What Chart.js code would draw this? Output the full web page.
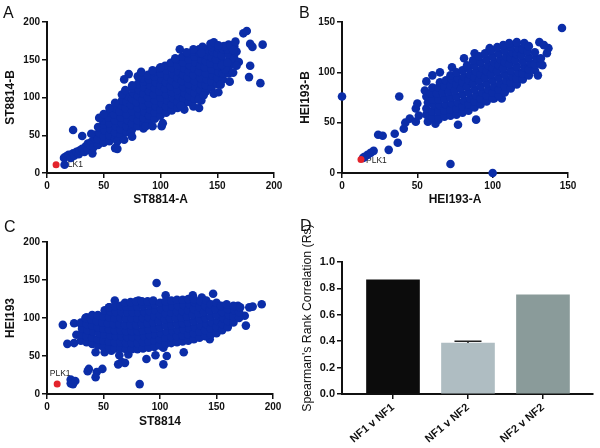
<!DOCTYPE html>
<html>
<head>
<meta charset="utf-8">
<script src="https://cdn.jsdelivr.net/npm/chart.js@4.4.0/dist/chart.umd.min.js"></script>
<style>
  body { margin: 0; background: #fff; }
  #wrap { position: relative; width: 600px; height: 448px; overflow: hidden; font-family: 'Liberation Sans', Arial, sans-serif; color: #111; }
  canvas { position: absolute; }
  .tag { position: absolute; font-size: 16px; line-height: 16px; }
  #dTitle { position: absolute; left: 207px; top: 311px; width: 200px; line-height: 14px; font-size: 12.3px; text-align: center; white-space: nowrap; transform: rotate(-90deg); }
</style>
</head>
<body>
<div id="wrap">
  <canvas id="cA" width="290" height="224" style="left:0;top:0"></canvas>
  <canvas id="cB" width="303" height="224" style="left:297px;top:0"></canvas>
  <canvas id="cC" width="290" height="224" style="left:0;top:224px"></canvas>
  <canvas id="cD" width="300" height="224" style="left:300px;top:224px"></canvas>
  <div class="tag" style="left:3px;top:5px">A</div>
  <div class="tag" style="left:299px;top:5px">B</div>
  <div class="tag" style="left:4px;top:219px">C</div>
  <div class="tag" style="left:300px;top:218px">D</div>
  <div id="dTitle">Spearman's Rank Correlation (Rs)</div>
</div>
<script>
// panel A: ST8814-A vs ST8814-B
const aPts = [
  [15,20],[17,22],[19,24],[21,20],[23,26],[24,23],[26,28],[28,25],[29,30],[31,32],[33,28],[34,35],[36,31],[36,39],
  [38,37],[39,41],[40,26],[41,34],[42,46],[43,51],[23,57],[31,49],[39,52],[15.5,11],
  [45,37],[45,45],[46,53],[45,61],
  [50,40],[50,48],[51,56],[50,64],[49,70],
  [55,42],[55,50],[56,58],[55,66],[54,74],[55,80],
  [60,46],[60,54],[61,62],[60,70],[59,78],[60,86],
  [65,50],[65,58],[66,66],[65,74],[64,82],[65,90],[66,96],
  [70,54],[70,62],[71,70],[70,78],[69,86],[70,94],[71,102],
  [75,58],[75,66],[76,74],[75,82],[74,90],[75,98],[76,106],[75,112],
  [80,62],[80,70],[81,78],[80,86],[79,94],[80,102],[81,110],[80,118],
  [85,65],[85,73],[86,81],[85,89],[84,97],[85,105],[86,113],[85,121],[84,126],
  [90,68],[90,76],[91,84],[90,92],[89,100],[90,108],[91,116],[90,124],[89,130],
  [95,72],[95,80],[96,88],[95,96],[94,104],[95,112],[96,120],[95,128],[94,134],
  [100,76],[100,84],[101,92],[100,100],[99,108],[100,116],[101,124],[100,132],[99,138],
  [105,80],[105,88],[106,96],[105,104],[104,112],[105,120],[106,128],[105,136],[104,142],
  [110,83],[110,91],[111,99],[110,107],[109,115],[110,123],[111,131],[110,139],[109,146],
  [115,86],[115,94],[116,102],[115,110],[114,118],[115,126],[116,134],[115,142],[114,150],
  [120,90],[120,98],[121,106],[120,114],[119,122],[120,130],[121,138],[120,146],[119,154],
  [125,94],[125,102],[126,110],[125,118],[124,126],[125,134],[126,142],[125,150],[124,158],
  [130,98],[130,106],[131,114],[130,122],[129,130],[130,138],[131,146],[130,154],[129,161],
  [135,102],[135,110],[136,118],[135,126],[134,134],[135,142],[136,150],[135,158],[134,164],
  [140,108],[140,116],[141,124],[140,132],[139,140],[140,148],[141,156],[140,164],
  [145,113],[145,121],[146,129],[145,137],[144,145],[145,153],[146,161],[145,167],
  [150,118],[150,126],[151,134],[150,142],[149,150],[150,158],[151,166],
  [155,124],[155,132],[156,140],[155,148],[154,156],[155,164],
  [160,132],[160,140],[161,148],[160,156],[159,164],[160,170],
  [165,144],[165,152],[166,160],[165,168],
  [60,33],[62,42],[62,32],[68,44],[74,53],[75,48],[85,59],[87,62],[93,62],[101,62],[102,66],
  [121,84],[118,89],[129,88],[134,86],[136,96],[134,97],[138,103],[147,105],[151,107],
  [46,73],[50,78],[55,86],[60,93],[66,104],[69,110],[72,131],[68,124],[80,128],[83,134],[75,116],
  [93,136],[100,140],[113,152],[117,164],[129,164],[123,160],
  [144,171],[147,173],[156,168],[162,169],[166,174],[167,161],[169,147],[173,185],[176,188],
  [179,171],[181,167],[190,170],[188,119],[178,127],[179,142],[167,142],[157,137],[153,117],
  [161,121],[164,133],[154,143],[159,146],[137,167],[151,169],[164,163],[136,159]
];
const aRed = [[8,11]];

// panel B: HEI193-A vs HEI193-B
const bPts = [
  [0,76],[100,0],[72,9],[146,144],[38,76],[24,38],[27,37],[31,23],[35,39],[37,30],[17,18],[19,20],[21,22],[15,16],[14,15],
  [41,44],[42,50],[45,54],[49,51],[51,57],[49,64],[50,69],[57,51],[62,49],[64,53],[77,48],[89,53],
  [56,91],[60,97],[65,100],[73,105],[81,114],[88,119],[98,124],
  [131,130],[137,124],[133,107],[130,97],[121,99],[101,74],[106,74],[134,127],[136,119],
  [56,58],[56,64],[57,70],[56,76],[55,82],
  [60,55],[60,61],[61,67],[60,73],[59,79],[60,85],
  [64,55],[64,61],[65,67],[64,73],[63,79],[64,85],[65,90],
  [68,56],[68,62],[69,68],[68,74],[67,80],[68,86],[69,92],
  [72,57],[72,63],[73,69],[72,75],[71,81],[72,87],[73,93],[72,97],
  [76,58],[76,64],[77,70],[76,76],[75,82],[76,88],[77,94],[76,100],
  [80,60],[80,66],[81,72],[80,78],[79,84],[80,90],[81,96],[80,102],
  [84,62],[84,68],[85,74],[84,80],[83,86],[84,92],[85,98],[84,104],[83,107],
  [88,65],[88,71],[89,77],[88,83],[87,89],[88,95],[89,101],[88,107],[87,112],
  [92,68],[92,74],[93,80],[92,86],[91,92],[92,98],[93,104],[92,110],[91,116],
  [96,71],[96,77],[97,83],[96,89],[95,95],[96,101],[97,107],[96,113],[95,119],
  [100,74],[100,80],[101,86],[100,92],[99,98],[100,104],[101,110],[100,116],[99,122],
  [104,77],[104,83],[105,89],[104,95],[103,101],[104,107],[105,113],[104,119],[103,125],
  [108,80],[108,86],[109,92],[108,98],[107,104],[108,110],[109,116],[108,122],[107,127],
  [112,84],[112,90],[113,96],[112,102],[111,108],[112,114],[113,120],[112,126],[111,129],
  [116,88],[116,94],[117,100],[116,106],[115,112],[116,118],[117,124],[116,130],
  [120,93],[120,99],[121,105],[120,111],[119,117],[120,123],[121,129],
  [124,97],[124,103],[125,109],[124,115],[123,121],[124,126],
  [128,102],[128,108],[129,114],[128,120],
  [132,108],[132,114]
];
const bRed = [[12.6,13.5]];

// panel C: ST8814 vs HEI193
const cPts = [
  [97,146],[105,130],[129,130],[137,127],[147,132],[81,123],[60,123],[55,114],[69,116],
  [14,91],[24,93],[30,92],[35,101],[26,78],[18,66],[24,67],[34,77],[43,96],
  [43,55],[51,55],[57,57],[64,51],[66,42],[69,41],[63,39],[72,52],[88,46],[96,51],[103,39],[103,61],[106,50],[121,55],[144,72],[82,13],
  [37,33],[36,30],[44,29],[43,22],[49,33],[21,19],[22,15],[25,17],[21,14],[23,13],
  [175,103],[179,114],[182,115],[190,118],[176,90],[162,99],[169,116],[166,110],
  [30,70],[30,78],[31,86],[30,94],
  [35,68],[35,76],[36,84],[35,92],[34,100],
  [40,66],[40,74],[41,82],[40,90],[39,98],[40,104],
  [45,64],[45,72],[46,80],[45,88],[44,96],[45,104],
  [50,62],[50,70],[51,78],[50,86],[49,94],[50,102],[51,110],
  [55,61],[55,69],[56,77],[55,85],[54,93],[55,101],[56,109],[55,114],
  [60,60],[60,68],[61,76],[60,84],[59,92],[60,100],[61,108],[60,116],
  [65,60],[65,68],[66,76],[65,84],[64,92],[65,100],[66,108],[65,116],
  [70,59],[70,67],[71,75],[70,83],[69,91],[70,99],[71,107],[70,115],[69,120],
  [75,59],[75,67],[76,75],[75,83],[74,91],[75,99],[76,107],[75,115],[74,121],
  [80,59],[80,67],[81,75],[80,83],[79,91],[80,99],[81,107],[80,115],[79,122],
  [85,60],[85,68],[86,76],[85,84],[84,92],[85,100],[86,108],[85,116],[84,122],
  [90,61],[90,69],[91,77],[90,85],[89,93],[90,101],[91,109],[90,117],[89,122],
  [95,62],[95,70],[96,78],[95,86],[94,94],[95,102],[96,110],[95,118],[94,123],
  [100,64],[100,72],[101,80],[100,88],[99,96],[100,104],[101,112],[100,120],
  [105,66],[105,74],[106,82],[105,90],[104,98],[105,106],[106,114],[105,122],
  [110,67],[110,75],[111,83],[110,91],[109,99],[110,107],[111,115],[110,123],
  [115,68],[115,76],[116,84],[115,92],[114,100],[115,108],[116,116],[115,124],
  [120,69],[120,77],[121,85],[120,93],[119,101],[120,109],[121,117],[120,124],
  [125,70],[125,78],[126,86],[125,94],[124,102],[125,110],[126,118],[125,125],
  [130,72],[130,80],[131,88],[130,96],[129,104],[130,112],[131,120],[130,125],
  [135,74],[135,82],[136,90],[135,98],[134,106],[135,114],[136,122],
  [140,76],[140,84],[141,92],[140,100],[139,108],[140,116],[141,123],
  [145,78],[145,86],[146,94],[145,102],[144,110],[145,118],
  [150,80],[150,88],[151,96],[150,104],[149,112],[150,120],
  [155,84],[155,92],[156,100],[155,108],[154,116],
  [160,88],[160,96],[161,104],[160,112],[159,118],
  [165,94],[165,102],[166,110],[165,116],
  [170,100],[170,108],[171,114]
];
const cRed = [[9,13]];

// panel D: Spearman's rank correlation
const dLabels = ['NF1 v NF1', 'NF1 v NF2', 'NF2 v NF2'];
const dValues = [0.864, 0.386, 0.752];
const dErrHigh = [null, 0.40, null];
const dColors = ['#0c0c0c', '#afbdc2', '#8a9b9a'];

const FONT = "'Liberation Sans', Arial, Helvetica, sans-serif";
const INK = '#111';
const BLUE = '#0b2da8';
const RED = '#e3232b';
Chart.defaults.font.family = FONT;
Chart.defaults.color = INK;

const plkLabel = {
  id: 'plkLabel',
  beforeDatasetsDraw(chart, args, opts) {
    if (!opts || !opts.text) return;
    const pt = chart.getDatasetMeta(1).data[0];
    const ctx = chart.ctx;
    ctx.save();
    ctx.font = '8.5px ' + FONT;
    ctx.fillStyle = '#222';
    ctx.textAlign = opts.align;
    ctx.textBaseline = 'middle';
    ctx.fillText(opts.text, pt.x + opts.dx, pt.y + opts.dy);
    ctx.restore();
  }
};

const errBar = {
  id: 'errBar',
  afterDatasetsDraw(chart, args, opts) {
    if (!opts || !opts.high) return;
    const meta = chart.getDatasetMeta(0);
    const y = chart.scales.y;
    const ctx = chart.ctx;
    ctx.save();
    ctx.strokeStyle = '#222';
    ctx.lineWidth = 1.5;
    opts.high.forEach((v, i) => {
      if (v == null) return;
      const bar = meta.data[i];
      const py = y.getPixelForValue(v);
      ctx.beginPath();
      ctx.moveTo(bar.x, bar.y);
      ctx.lineTo(bar.x, py);
      ctx.moveTo(bar.x - opts.cap / 2, py);
      ctx.lineTo(bar.x + opts.cap / 2, py);
      ctx.stroke();
    });
    ctx.restore();
  }
};

function axis(o) {
  return {
    type: 'linear', min: o.min ?? 0, max: o.max, offset: false,
    ticks: { stepSize: o.step, font: { size: o.tickSize, weight: 'bold' }, color: INK, padding: 2,
             callback: o.fmt, minRotation: o.rot || 0, maxRotation: o.rot || 0, autoSkip: false },
    grid: { offset: false, drawOnChartArea: false, drawTicks: true, tickLength: 5, color: INK, lineWidth: 1.5 },
    border: { display: true, color: INK, width: 2 },
    title: o.title ? { display: true, text: o.title, font: { size: 12, weight: 'bold' }, color: INK, padding: o.titlePad }
                   : { display: false },
    afterBuildTicks: o.buildTicks,
    afterFit: o.fit
  };
}

function scatter(id, pts, red, c) {
  new Chart(document.getElementById(id), {
    type: 'scatter',
    data: {
      datasets: [
        { data: pts.map(p => ({ x: p[0], y: p[1] })), backgroundColor: BLUE, borderWidth: 0,
          pointRadius: 4.3, clip: false, order: 1 },
        { data: red.map(p => ({ x: p[0], y: p[1] })), backgroundColor: RED, borderWidth: 0,
          pointRadius: 3.5, clip: false, order: 0 }
      ]
    },
    options: {
      responsive: false, animation: false, events: [],
      layout: { padding: c.pad },
      plugins: { legend: { display: false }, tooltip: { enabled: false }, plkLabel: c.label },
      scales: {
        x: axis({ max: c.max, step: 50, tickSize: 10, title: c.xTitle, titlePad: { top: 0, bottom: c.xTitleBottom },
                  fit: s => { s.height = c.xHeight; } }),
        y: axis({ max: c.max, step: 50, tickSize: 10, title: c.yTitle, titlePad: { top: c.yTitleLeft, bottom: 0 },
                  fit: s => { s.width = c.yWidth; } })
      }
    },
    plugins: [plkLabel]
  });
}

scatter('cA', aPts, aRed, {
  max: 200, xTitle: 'ST8814-A', yTitle: 'ST8814-B',
  pad: { top: 22, right: 16, left: 0, bottom: 0 }, xHeight: 51, yWidth: 47,
  xTitleBottom: 17, yTitleLeft: 3,
  label: { text: 'PLK1', dx: 6, dy: 0, align: 'left' }
});

scatter('cB', bPts, bRed, {
  max: 150, xTitle: 'HEI193-A', yTitle: 'HEI193-B',
  pad: { top: 22, right: 32, left: 0, bottom: 0 }, xHeight: 51, yWidth: 45,
  xTitleBottom: 17, yTitleLeft: 1,
  label: { text: 'PLK1', dx: 5, dy: 1, align: 'left' }
});

scatter('cC', cPts, cRed, {
  max: 200, xTitle: 'ST8814', yTitle: 'HEI193',
  pad: { top: 18, right: 17, left: 0, bottom: 0 }, xHeight: 54, yWidth: 47,
  xTitleBottom: 19, yTitleLeft: 3,
  label: { text: 'PLK1', dx: 3, dy: -10, align: 'center' }
});

new Chart(document.getElementById('cD'), {
  type: 'bar',
  data: {
    datasets: [{
      data: dValues.map((v, i) => ({ x: i, y: v })),
      backgroundColor: dColors, borderWidth: 0, barThickness: 53
    }]
  },
  options: {
    responsive: false, animation: false, events: [],
    layout: { padding: { top: 38, right: 7, left: 0, bottom: 0 } },
    plugins: { legend: { display: false }, tooltip: { enabled: false }, errBar: { high: dErrHigh, cap: 27 } },
    scales: {
      x: axis({ min: -0.68, max: 2.667, tickSize: 11, rot: 40,
                buildTicks: s => { s.ticks = dLabels.map((_, i) => ({ value: i })); },
                fmt: v => dLabels[v], fit: s => { s.height = 54; } }),
      y: axis({ min: 0, max: 1, step: 0.2, tickSize: 11, fmt: v => v.toFixed(1),
                fit: s => { s.width = 42; } })
    }
  },
  plugins: [errBar]
});
</script>
</body>
</html>
